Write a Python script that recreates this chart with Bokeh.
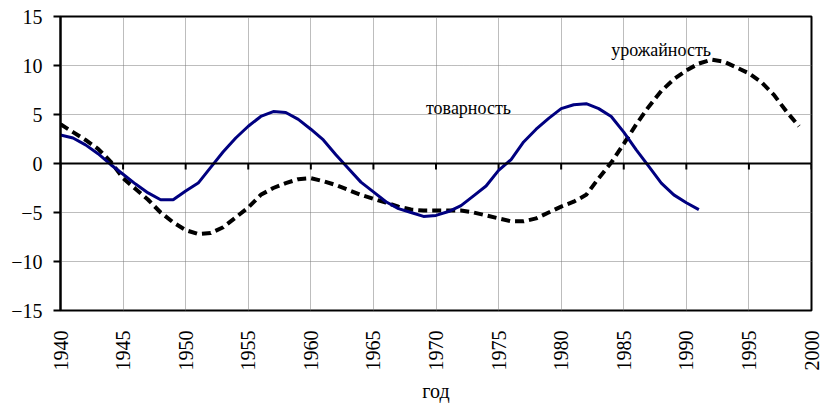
import math
from bokeh.plotting import figure
from bokeh.models import Span, Range1d, FixedTicker
from bokeh.core.properties import value
from bokeh.embed import file_html
from bokeh.resources import INLINE

# --- data ---
years_tov = list(range(1940, 1992))
tovarnost = [2.9, 2.6, 1.9, 1.0, -0.1, -1.1, -2.1, -3.0, -3.7, -3.7,
             -2.8, -2.0, -0.4, 1.2, 2.6, 3.8, 4.8, 5.3, 5.2, 4.5,
             3.5, 2.4, 0.9, -0.5, -1.9, -2.9, -3.9, -4.6, -5.0, -5.4,
             -5.3, -4.9, -4.3, -3.3, -2.3, -0.7, 0.4, 2.2, 3.5, 4.6,
             5.6, 6.0, 6.1, 5.6, 4.8, 3.2, 1.4, -0.3, -2.0, -3.2,
             -4.0, -4.7]
years_ur = list(range(1940, 2000))
urozhainost = [4.0, 3.2, 2.4, 1.5, 0.2, -1.5, -2.6, -3.7, -5.0, -6.0,
               -6.8, -7.2, -7.1, -6.5, -5.5, -4.5, -3.2, -2.5, -2.0, -1.6,
               -1.5, -1.8, -2.2, -2.7, -3.2, -3.6, -4.0, -4.4, -4.7, -4.8,
               -4.8, -4.8, -4.8, -5.0, -5.3, -5.6, -5.9, -5.9, -5.6, -5.0,
               -4.4, -3.9, -3.2, -1.5, 0.1, 2.0, 4.0, 5.8, 7.4, 8.6,
               9.5, 10.2, 10.6, 10.4, 9.8, 9.2, 8.3, 7.0, 5.3, 3.8]
x_ticks = list(range(1940, 2001, 5))
y_ticks = [-15, -10, -5, 0, 5, 10, 15]
label_tov = "товарность"
label_ur = "урожайность"
x_title = "год"

FONT = "Liberation Serif"

p = figure(width=821, height=404, output_backend="svg", toolbar_location=None,
           x_range=Range1d(1940, 2000), y_range=Range1d(-15, 15),
           min_border_left=60, min_border_right=10, min_border_top=16,
           min_border_bottom=92)
p.background_fill_color = "white"
p.border_fill_color = "white"
p.outline_line_color = "black"
p.outline_line_width = 2

# grid
for g in (p.xgrid, p.ygrid):
    g.grid_line_color = "#7a7a7a"
    g.grid_line_dash = "1 1"
    g.grid_line_width = 1
p.xgrid.ticker = FixedTicker(ticks=x_ticks)
p.ygrid.ticker = FixedTicker(ticks=y_ticks)

# x axis
xa = p.xaxis[0]
xa.ticker = FixedTicker(ticks=x_ticks)
xa.major_label_orientation = math.pi / 2
xa.major_tick_out = 0
xa.major_tick_in = 0
xa.minor_tick_out = 0
xa.minor_tick_in = 0
xa.axis_line_color = None
xa.major_label_standoff = 20
xa.major_label_text_font = FONT
xa.major_label_text_font_size = "20px"
xa.major_label_text_color = "black"
xa.axis_label = x_title
xa.axis_label_text_font = FONT
xa.axis_label_text_font_size = "20px"
xa.axis_label_text_font_style = "normal"
xa.axis_label_text_color = "black"
xa.axis_label_standoff = 6

# y axis
ya = p.yaxis[0]
ya.ticker = FixedTicker(ticks=y_ticks)
ya.major_tick_out = 7
ya.major_tick_in = 0
ya.minor_tick_out = 0
ya.minor_tick_in = 0
ya.major_tick_line_width = 2
ya.axis_line_width = 2
ya.axis_line_color = "black"
ya.major_label_standoff = 11
ya.major_label_text_font = FONT
ya.major_label_text_font_size = "20px"
ya.major_label_text_color = "black"

# zero line with ticks
p.add_layout(Span(location=0, dimension="width", line_color="black", line_width=2))
p.segment(x0=x_ticks, y0=[0] * len(x_ticks), x1=x_ticks, y1=[-0.6] * len(x_ticks),
          line_color="black", line_width=2)

# series
p.line(years_ur, urozhainost, line_color="black", line_width=4, line_dash="9 5")
p.line(years_tov, tovarnost, line_color="#000080", line_width=3)

# labels
p.text(x=[1969.2], y=[5.7], text=[label_tov], text_font=value(FONT),
       text_font_size="18px", text_baseline="middle", text_align="left",
       text_color="black")
p.text(x=[1984.0], y=[11.6], text=[label_ur], text_font=value(FONT),
       text_font_size="18px", text_baseline="middle", text_align="left",
       text_color="black")

open("out.html", "w").write(file_html(p, INLINE))
